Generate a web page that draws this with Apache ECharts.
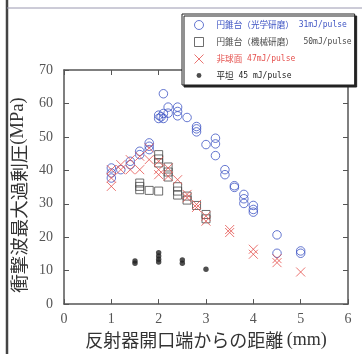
<!DOCTYPE html>
<html><head><meta charset="utf-8">
<script src="https://cdn.jsdelivr.net/npm/echarts@6/dist/echarts.min.js"></script>
<style>html,body{margin:0;padding:0;background:#fff}#c{width:362px;height:354px}</style>
</head><body><div id="c"></div>
<script>
var xTicks = [0, 1, 2, 3, 4, 5, 6];
var yTicks = [0, 10, 20, 30, 40, 50, 60, 70];
var legendCJK = ['円錐台（光学研磨）', '円錐台（機械研磨）', '非球面', '平坦'];
var legendUnit = ['31mJ/pulse', ' 50mJ/pulse', '47mJ/pulse', '45 mJ/pulse'];

var opticalX = [1.0,1.0,1.0,1.2,1.4,1.4,1.6,1.6,1.8,1.8,1.8,2.0,2.0,2.05,2.1,2.1,2.1,2.2,2.2,2.4,2.4,2.4,2.6,2.8,2.8,2.8,3.0,3.2,3.2,3.2,3.4,3.4,3.6,3.6,3.8,3.8,3.8,4.0,4.0,4.0,4.5,4.5,5.0,5.0];
var opticalY = [40.7,39.2,37.7,40.2,42.7,41.7,45.7,44.7,48.2,47.2,46.2,56.5,55.5,56.0,57.0,55.5,62.9,58.9,57.1,58.9,57.6,56.3,55.8,53.1,52.4,51.5,47.7,49.6,47.9,44.4,40.2,38.7,35.4,34.9,32.8,31.5,30.1,29.5,28.3,27.5,20.7,15.2,15.9,15.2];

var mechX = [1.6,1.6,1.6,1.8,2.0,2.0,2.0,2.0,2.2,2.2,2.2,2.4,2.4,2.4,2.6,2.6,2.8,3.0,3.0];
var mechY = [36.2,35.2,34.2,34.0,33.8,44.7,43.4,42.2,41.0,39.5,38.0,35.1,33.8,32.6,32.3,31.1,29.5,26.8,25.5];

var asphX = [1.0,1.0,1.0,1.2,1.2,1.4,1.4,1.6,1.6,1.8,1.8,2.0,2.0,2.0,2.2,2.2,2.4,2.6,2.6,2.8,2.8,3.0,3.0,3.5,3.5,4.0,4.0,4.5,4.5,5.0];
var asphY = [40.2,37.7,35.2,41.7,40.2,43.2,40.2,44.2,40.2,46.7,43.2,42.7,40.2,38.7,40.7,38.2,37.2,32.8,31.8,29.8,28.9,26.3,24.8,22.3,21.4,16.4,14.9,13.6,12.4,9.6];

var flatX = [1.5,1.5,2.0,2.0,2.0,2.0,2.5,2.5,3.0];
var flatY = [12.9,12.2,15.4,14.4,13.4,12.6,13.2,12.2,10.4];

function pairs(xs, ys){ return xs.map(function(x,i){ return [x, ys[i]]; }); }

var colors = ['#3f55c4', '#4a4a4a', '#e5514e', '#222222'];
var richKeys = ['b','g','r','k'];
var names = legendCJK.map(function(c,i){ return c + ' ' + legendUnit[i]; });

var rich = {};
richKeys.forEach(function(k,i){
  rich[k+'c'] = {fontFamily:'Noto Sans CJK JP', fontSize:8.6, color:colors[i], lineHeight:10};
  rich[k+'m'] = {fontFamily:'DejaVu Sans Mono', fontSize:8, color:colors[i], lineHeight:10};
});

var chart = echarts.init(document.getElementById('c'), null, {renderer:'canvas'});
var axisCol = '#555';
var option = {
  animation: false,
  backgroundColor: '#fff',
  grid: {left:64, right:14, top:70, bottom:49, containLabel:false},
  xAxis: [{
    type:'value', min:0, max:6, interval:1,
    axisLine:{show:true, lineStyle:{color:axisCol, width:1.5}},
    axisTick:{show:true, inside:true, length:5, lineStyle:{color:axisCol}},
    axisLabel:{fontFamily:'Liberation Serif', fontSize:14, color:'#555', margin:8},
    splitLine:{show:false},
    name:'{a|反射器開口端からの距離} {b|(mm)}', nameLocation:'middle', nameGap:23,
    nameTextStyle:{rich:{a:{fontFamily:'Noto Sans CJK JP', fontSize:18, color:'#333'}, b:{fontFamily:'Liberation Serif', fontSize:18, color:'#333'}}}
  },{
    type:'value', position:'top', min:0, max:6, interval:1,
    axisLine:{show:true, onZero:false, lineStyle:{color:axisCol, width:1.5}},
    axisTick:{show:true, inside:true, length:5, lineStyle:{color:axisCol}},
    axisLabel:{show:false}, splitLine:{show:false}
  }],
  yAxis: [{
    type:'value', min:0, max:70, interval:10,
    axisLine:{show:true, lineStyle:{color:axisCol, width:1.5}},
    axisTick:{show:true, inside:true, length:5, lineStyle:{color:axisCol}},
    axisLabel:{fontFamily:'Liberation Serif', fontSize:14, color:'#555', margin:11},
    splitLine:{show:false},
    name:'{a|衝撃波最大過剰圧}{b|(MPa)}', nameLocation:'middle', nameGap:27,
    nameTextStyle:{padding:[0,16,0,0], rich:{a:{fontFamily:'Noto Sans CJK JP', fontSize:18.5, color:'#333'}, b:{fontFamily:'Liberation Serif', fontSize:18.5, color:'#333'}}}
  },{
    type:'value', position:'right', min:0, max:70, interval:10,
    axisLine:{show:true, onZero:false, lineStyle:{color:axisCol, width:1.5}},
    axisTick:{show:true, inside:true, length:5, lineStyle:{color:axisCol}},
    axisLabel:{show:false}, splitLine:{show:false}
  }],
  legend: {
    orient:'vertical', left:182, top:14,
    padding:[6, 3, 5, 12],
    itemWidth:9, itemHeight:9, itemGap:7,
    backgroundColor:'#fff', borderColor:'#222', borderWidth:1,
    shadowColor:'#222', shadowOffsetX:2, shadowOffsetY:2, shadowBlur:0,
    itemStyle:{borderWidth:1},
    textStyle:{rich:rich, padding:[0,0,0,8]},
    formatter:function(name){
      var i = names.indexOf(name);
      var k = richKeys[i];
      return '{'+k+'c|'+legendCJK[i]+'}{'+k+'m| '+legendUnit[i]+'}';
    },
    data: names
  },
  graphic: [
    {type:'line', shape:{x1:7, y1:0, x2:7, y2:354}, style:{stroke:'#444', lineWidth:2.5}, z:10},
    {type:'line', shape:{x1:7, y1:8, x2:362, y2:8}, style:{stroke:'#9a98b0', lineWidth:1}, z:10}
  ],
  series: [
    {name:names[0], type:'scatter', data:pairs(opticalX, opticalY), symbol:'circle', symbolSize:8.5, symbolKeepAspect:true,
     itemStyle:{color:'rgba(255,255,255,0)', borderColor:colors[0], borderWidth:1}},
    {name:names[1], type:'scatter', data:pairs(mechX, mechY), symbol:'rect', symbolSize:8, symbolKeepAspect:true,
     itemStyle:{color:'rgba(255,255,255,0)', borderColor:colors[1], borderWidth:1}},
    {name:names[2], type:'scatter', data:pairs(asphX, asphY), symbol:'path://M0,0L10,10M10,0L0,10', symbolSize:9, symbolKeepAspect:true,
     itemStyle:{color:'rgba(255,255,255,0)', borderColor:colors[2], borderWidth:1}},
    {name:names[3], type:'scatter', data:pairs(flatX, flatY), symbol:'path://M0,0M10,10M7.7,5A2.7,2.7,0,1,1,2.3,5A2.7,2.7,0,1,1,7.7,5Z', symbolSize:10, symbolKeepAspect:true,
     itemStyle:{color:colors[3]}}
  ]
};
chart.setOption(option);
</script></body></html>
